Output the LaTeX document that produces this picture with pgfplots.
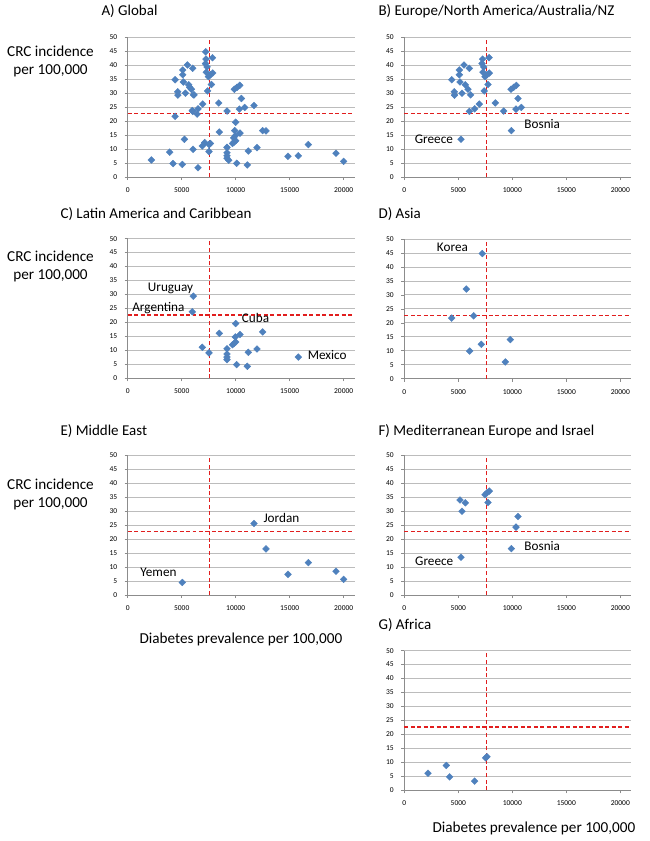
\documentclass[border=0pt]{standalone}
\usepackage{fontspec}
\setmainfont{Carlito}
\usepackage{pgfplots}
\pgfplotsset{compat=1.18}
\usepackage{pgfplotstable}

\definecolor{dotblue}{RGB}{79,129,189}
\definecolor{refred}{RGB}{225,30,30}
\definecolor{gridgray}{RGB}{188,188,188}
\definecolor{axgray}{RGB}{140,140,140}

% diabetes prevalence (x) vs CRC incidence (y), by region
% Europe/N. America/Australia/NZ, without the Mediterranean ones
\pgfplotstableread{
x y
4390 34.8
4630 30.5
4650 29.3
5095 38.3
5095 36.6
5528 40.1
6021 38.9
5898 31.4
6145 29.4
6021 23.5
6515 24.4
6947 26.1
7250 42.2
7850 42.7
7200 40.6
7350 39.4
7280 37.5
7400 30.8
8429 26.5
9200 23.6
9879 31.4
10126 32.1
10373 32.8
10836 24.9
}\tblEur
% Mediterranean Europe and Israel
\pgfplotstableread{
x y
5157 34.0
5651 33.0
5342 30.0
7472 35.9
7658 36.6
7873 37.2
7750 33.1
10527 28.1
10342 24.3
9910 16.6
5250 13.5
}\tblMed
% Latin America and Caribbean
\pgfplotstableread{
x y
6077 29.4
5984 23.8
9997 19.6
8484 16.1
12497 16.6
9966 14.8
10398 15.7
9700 12.0
9850 12.5
10000 13.0
6910 11.1
7528 9.1
9194 10.6
9194 8.7
9194 7.6
9194 6.7
11169 9.3
11972 10.5
10090 4.9
11077 4.3
15799 7.6
}\tblLat
% Asia
\pgfplotstableread{
x y
7225 44.8
5744 32.1
4386 21.7
6423 22.5
9817 14.0
7132 12.3
6053 9.9
9354 6.0
}\tblAsia
% Middle East
\pgfplotstableread{
x y
11694 25.6
12805 16.5
14842 7.4
16725 11.6
5058 4.5
19287 8.5
19996 5.6
}\tblMid
% Africa
\pgfplotstableread{
x y
2191 6.1
3889 8.9
4198 4.8
6512 3.3
7531 11.6
7654 12.0
}\tblAfr

\pgfplotsset{
  panel/.style={
    scale only axis, width=226.8pt, height=139.7pt,
    anchor=south west,
    xmin=0, xmax=21000, ymin=0, ymax=50,
    xtick={0,5000,10000,15000,20000}, ytick={0,5,...,50},
    axis x line*=bottom, axis y line*=left,
    axis line style={axgray, line width=0.8pt},
    ymajorgrids, grid style={gridgray, line width=0.8pt},
    tick style={axgray, line width=0.6pt},
    major tick length=3pt, tick align=outside,
    ticklabel style={font=\fontsize{7.5}{8}\selectfont},
    /pgf/number format/assume math mode=true,
    scaled x ticks=false,
    xticklabel style={/pgf/number format/1000 sep={}, yshift=-4pt},
    yticklabel style={xshift=-4pt},
    clip=false,
  },
  dots/.style={only marks, mark=square*, mark size=2.4pt,
    mark options={rotate=45, fill=dotblue, draw=dotblue}},
}
\tikzset{
  refseg/.style={draw=refred, line width=1.3pt},
  lbl/.style={anchor=base west, font=\fontsize{13.2}{15}\selectfont},
  ttl/.style={anchor=base west, font=\fontsize{15}{17}\selectfont},
  axl/.style={font=\fontsize{15.2}{17}\selectfont},
}

% cut-offs: diabetes 7590 per 100,000, CRC 22.7 per 100,000
% dashes drawn as short solid pieces (dash patterns came out black here)
\newcommand{\reflines}{%
  \pgfplotsinvokeforeach{0,...,20}{%
    \draw[refseg] (axis cs:7590,{##1*2.38}) -- (axis cs:7590,{##1*2.38+1.43});}
  \pgfplotsinvokeforeach{0,...,34}{%
    \draw[refseg] (axis cs:{##1*600},22.7) -- (axis cs:{##1*600+370},22.7);}
}

\begin{document}
\begin{tikzpicture}[x=1pt, y=1pt]

% A) Global
\begin{axis}[panel, at={(127.7pt,-177pt)}]
  \reflines
  \addplot[dots] table {\tblEur};
  \addplot[dots] table {\tblMed};
  \addplot[dots] table {\tblLat};
  \addplot[dots] table {\tblAsia};
  \addplot[dots] table {\tblMid};
  \addplot[dots] table {\tblAfr};
\end{axis}

% B) Europe/North America/Australia/NZ
\begin{axis}[panel, at={(404.3pt,-177pt)}]
  \reflines
  \addplot[dots] table {\tblEur};
  \addplot[dots] table {\tblMed};
  \node[lbl] at (axis cs:650,12.1) {Greece};
  \node[lbl] at (axis cs:10800,17.4) {Bosnia};
\end{axis}

% C) Latin America and Caribbean
\begin{axis}[panel, at={(127.7pt,-378.3pt)}]
  \reflines
  \addplot[dots] table {\tblLat};
  \node[lbl] at (axis cs:1550,31.1) {Uruguay};
  \node[lbl] at (axis cs:100,23.9) {Argentina};
  \node[lbl] at (axis cs:10250,20.0) {Cuba};
  \node[lbl] at (axis cs:16350,6.8) {Mexico};
\end{axis}

% D) Asia
\begin{axis}[panel, at={(404.3pt,-378.7pt)}]
  \reflines
  \addplot[dots] table {\tblAsia};
  \node[lbl] at (axis cs:2700,45.5) {Korea};
\end{axis}

% E) Middle East
\begin{axis}[panel, at={(127.7pt,-595pt)}]
  \reflines
  \addplot[dots] table {\tblMid};
  \node[lbl] at (axis cs:12250,26.1) {Jordan};
  \node[lbl] at (axis cs:850,6.8) {Yemen};
\end{axis}

% F) Mediterranean Europe and Israel
\begin{axis}[panel, at={(404.3pt,-595pt)}]
  \reflines
  \addplot[dots] table {\tblMed};
  \node[lbl] at (axis cs:680,10.4) {Greece};
  \node[lbl] at (axis cs:10800,15.9) {Bosnia};
\end{axis}

% G) Africa
\begin{axis}[panel, at={(404.3pt,-790.3pt)}]
  \reflines
  \addplot[dots] table {\tblAfr};
\end{axis}

% titles
\node[ttl] at (98,-15.7) {A) Global};
\node[ttl] at (375,-15.3) {B) Europe/North America/Australia/NZ};
\node[ttl] at (57,-218) {C) Latin America and Caribbean};
\node[ttl] at (375,-218) {D) Asia};
\node[ttl] at (57,-435) {E) Middle East};
\node[ttl] at (375,-435) {F) Mediterranean Europe and Israel};
\node[ttl] at (375,-629) {G) Africa};

% shared axis labels
\foreach \yb in {56,261,489.3} {
  \node[axl, anchor=base] at (50.5,-\yb) {CRC incidence};
  \node[axl, anchor=base] at (50.5,-\yb-18) {per 100,000};
}
\node[axl, anchor=base west] at (136,-643) {Diabetes prevalence per 100,000};
\node[axl, anchor=base west] at (429,-832) {Diabetes prevalence per 100,000};

\pgfresetboundingbox
\path (0,0) rectangle (650,-841);
\end{tikzpicture}
\end{document}
